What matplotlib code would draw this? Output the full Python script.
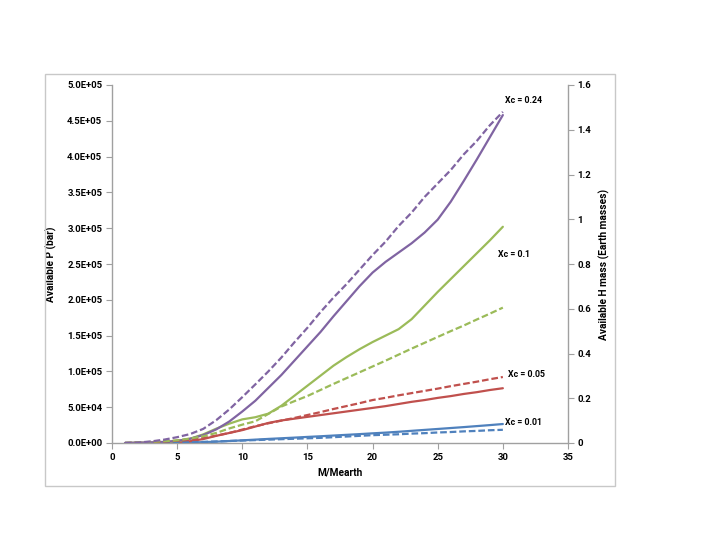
import matplotlib
matplotlib.use("Agg")
import matplotlib.pyplot as plt
from matplotlib.patches import Rectangle
from matplotlib.ticker import FixedLocator, FuncFormatter

plt.rcParams['font.family'] = ['Roboto', 'DejaVu Sans']

# ---- data ----
mass = [1, 2, 3, 4, 5, 6, 7, 8, 9, 10, 11, 12, 13, 14, 15,
        16, 17, 18, 19, 20, 21, 22, 23, 24, 25, 26, 27, 28, 29, 30]

# Available P (bar), solid lines
p_024 = [0, 300, 800, 1600, 3000, 6000, 11000, 19000, 30000, 44000, 59000, 77000, 95000, 115000, 135000,
         155000, 177000, 198000, 219000, 238000, 253000, 266000, 279000, 294000, 312000, 337000, 366000, 396000, 427000, 458000]
p_010 = [0, 200, 500, 1000, 2500, 6000, 12000, 20000, 27000, 33000, 36000, 41000, 52000, 66000, 80000,
         94000, 108000, 120000, 131000, 141000, 150000, 159000, 173000, 192000, 211000, 229000, 247000, 265000, 283000, 302000]
p_005 = [0, 100, 300, 600, 1200, 2500, 5500, 10000, 14000, 18000, 23000, 28000, 31500, 34000, 36500,
         39000, 41500, 44000, 46500, 49000, 51500, 54500, 57500, 60000, 63000, 65500, 68500, 71000, 74000, 76500]
p_001 = [0, 50, 100, 200, 400, 700, 1200, 1800, 2800, 3700, 4700, 5700, 6600, 7500, 8500,
         9400, 10400, 11400, 12400, 13500, 14500, 15700, 17000, 18300, 19600, 20900, 22200, 23600, 25000, 26500]

# Available H mass (Earth masses), dashed lines
h_024 = [0, 0.002, 0.007, 0.015, 0.026, 0.04, 0.063, 0.102, 0.15, 0.205, 0.262, 0.32, 0.382, 0.45, 0.515,
         0.585, 0.65, 0.71, 0.775, 0.84, 0.90, 0.97, 1.03, 1.10, 1.16, 1.22, 1.29, 1.35, 1.42, 1.48]
h_010 = [0, 0.002, 0.005, 0.008, 0.012, 0.02, 0.03, 0.045, 0.065, 0.082, 0.097, 0.13, 0.163, 0.187, 0.21,
         0.237, 0.264, 0.29, 0.316, 0.342, 0.368, 0.395, 0.422, 0.448, 0.474, 0.5, 0.525, 0.552, 0.578, 0.605]
h_005 = [0, 0.001, 0.003, 0.006, 0.01, 0.015, 0.022, 0.033, 0.045, 0.06, 0.075, 0.088, 0.1, 0.112, 0.125,
         0.138, 0.152, 0.165, 0.178, 0.192, 0.202, 0.213, 0.223, 0.233, 0.243, 0.254, 0.264, 0.274, 0.285, 0.295]
h_001 = [0, 0.0003, 0.0007, 0.0013, 0.002, 0.003, 0.005, 0.007, 0.009, 0.011, 0.013, 0.015, 0.017, 0.019, 0.021,
         0.023, 0.026, 0.029, 0.032, 0.035, 0.037, 0.039, 0.042, 0.044, 0.047, 0.049, 0.052, 0.054, 0.057, 0.059]

labels = ["Xc = 0.24", "Xc = 0.1", "Xc = 0.05", "Xc = 0.01"]
label_x = [30.2, 29.6, 30.4, 30.2]
label_y = [478000, 263000, 96000, 28000]

xticks = [0, 5, 10, 15, 20, 25, 30, 35]
left_ticks = [0, 50000, 100000, 150000, 200000, 250000, 300000, 350000, 400000, 450000, 500000]
right_ticks = [0, 0.2, 0.4, 0.6, 0.8, 1.0, 1.2, 1.4, 1.6]

colors = ["#8064A2", "#9BBB59", "#C0504D", "#4F81BD"]

# ---- figure ----
fig = plt.figure(figsize=(7.18, 5.55), dpi=100)
fig.patches.append(Rectangle((45 / 718, 1 - 486 / 555), 570 / 718, 412 / 555,
                             transform=fig.transFigure, fill=False,
                             edgecolor="#C8C8C8", linewidth=1.0))
ax = fig.add_axes([112 / 718, 1 - 443 / 555, 456 / 718, 358 / 555])
ax2 = ax.twinx()

lw = 1.6
for p, c in zip([p_001, p_005, p_010, p_024], colors[::-1]):
    ax.plot(mass, p, color=c, linewidth=lw, solid_capstyle="round", solid_joinstyle="round")
for h, c in zip([h_001, h_005, h_010, h_024], colors[::-1]):
    ax2.plot(mass, h, color=c, linewidth=lw, linestyle=(0, (3, 1.3)))

ax.set_xlim(0, 35)
ax.set_ylim(0, 500000)
ax2.set_ylim(0, 1.6)

ax.xaxis.set_major_locator(FixedLocator(xticks))
ax.yaxis.set_major_locator(FixedLocator(left_ticks))
ax2.yaxis.set_major_locator(FixedLocator(right_ticks))
ax.yaxis.set_major_formatter(FuncFormatter(lambda v, p: "%.1E" % v))
ax2.yaxis.set_major_formatter(FuncFormatter(lambda v, p: ("%g" % v)))

spine_c = "#A0A0A0"
for a in (ax, ax2):
    a.spines["top"].set_visible(False)
    for s in ("left", "bottom", "right"):
        a.spines[s].set_color(spine_c)
        a.spines[s].set_linewidth(1.0)
    a.tick_params(colors=spine_c, labelcolor="black", length=4, width=0.8,
                  labelsize=6.8, direction="out", pad=3)
    for t in a.get_xticklabels() + a.get_yticklabels():
        t.set_fontweight("bold")
ax2.spines["left"].set_visible(False)
ax2.spines["bottom"].set_visible(False)
ax.spines["right"].set_visible(False)

ax.set_xlabel("M/Mearth", fontsize=7.3, fontweight="bold", labelpad=4)
ax.set_ylabel("Available P (bar)", fontsize=7.3, fontweight="bold", labelpad=7)
ax2.set_ylabel("Available H mass (Earth masses)", fontsize=7.3, fontweight="bold", labelpad=5)

for lab, lx, ly in zip(labels, label_x, label_y):
    ax.text(lx, ly, lab, fontsize=6.3, fontweight="bold", ha="left", va="center")

fig.savefig("out.png", dpi=100)
